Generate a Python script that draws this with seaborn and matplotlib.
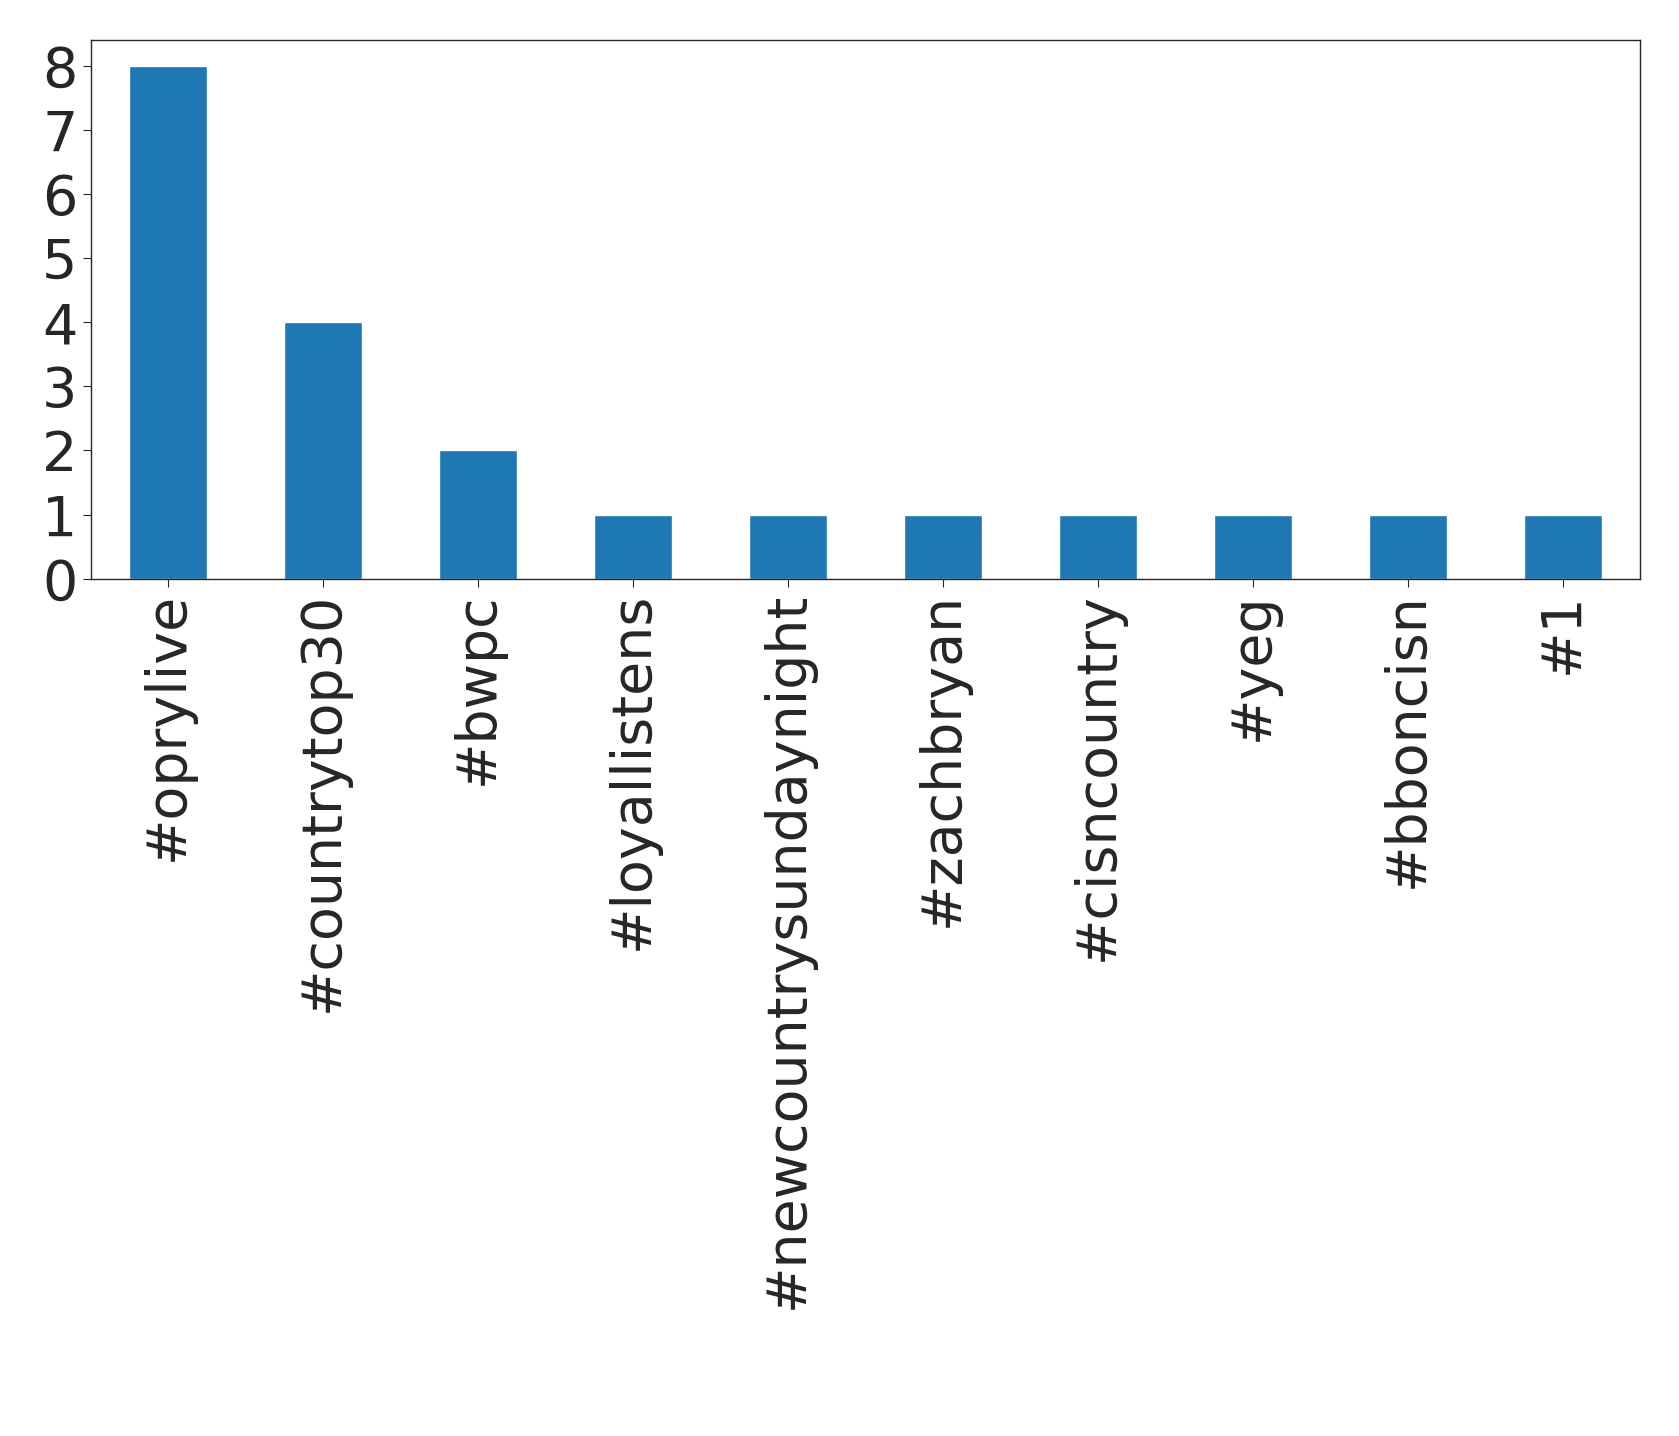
import matplotlib
matplotlib.use("Agg")
import matplotlib.pyplot as plt
import seaborn as sns
import pandas as pd

tags = ["#oprylive", "#countrytop30", "#bwpc", "#loyallistens", "#newcountrysundaynight",
        "#zachbryan", "#cisncountry", "#yeg", "#bboncisn", "#1"]
counts = [8, 4, 2, 1, 1, 1, 1, 1, 1, 1]

sns.set_style("ticks")
plt.rcParams['font.family'] = ['DejaVu Sans']
df = pd.DataFrame({"tag": tags, "count": counts})
fig = plt.figure(figsize=(16.79, 14.36), dpi=100)
ax = fig.add_axes([0.054, 0.597, 0.923, 0.375])
sns.barplot(data=df, x="tag", y="count", color="#1f77b4", saturation=1, width=0.5, ax=ax)
ax.set_xlabel("")
ax.set_ylabel("")
ax.set_xlim(-0.5, len(tags) - 0.5)
ax.set_ylim(0, 8.4)
ax.set_yticks(range(0, 9))
ax.tick_params(axis="both", labelsize=40, length=6)
plt.setp(ax.get_xticklabels(), rotation=90)
for s in ax.spines.values():
    s.set_visible(True)
    s.set_linewidth(1)
fig.savefig("out.png", dpi=100)
